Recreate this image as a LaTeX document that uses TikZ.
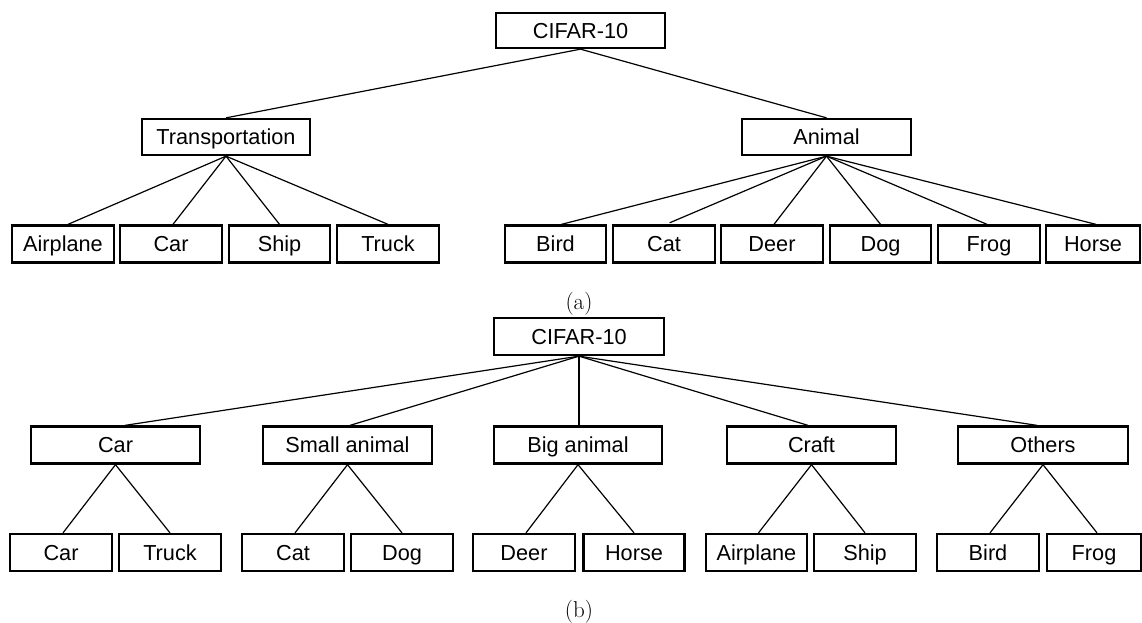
\documentclass[tikz,border=0pt]{standalone}
\usepackage{fontspec}
\newfontfamily\boxfont{Liberation Sans}
\begin{document}
\begin{tikzpicture}[x=1pt,y=-1pt,
  box/.style={draw,line width=2.3pt,inner sep=0pt,minimum height=36pt,
    text height=15.5pt,text depth=0pt,
    font=\boxfont\fontsize{21.7}{26}\selectfont},
  link/.style={line width=1.2pt},
  caption/.style={inner sep=0pt,font=\fontsize{23}{27}\selectfont}]
\useasboundingbox (0,0) rectangle (1142,622);

% ---------- (a) two-level hierarchy ----------
\node[box,minimum width=169pt,minimum height=35pt] (ra) at (580.5,30.5) {CIFAR-10};
\node[box,minimum width=168pt] (trans) at (226,137) {Transportation};
\node[box,minimum width=169pt] (animal) at (826.5,137) {Animal};

\foreach \nm/\x/\w/\t in {aairplane/63/102/Airplane, acar/171/102/Car,
    aship/279.5/101/Ship, atruck/388/102/Truck,
    abird/555.5/101/Bird, acat/664/102/Cat, adeer/772/102/Deer,
    adog/880.5/101/Dog, afrog/989/102/Frog, ahorse/1093/94/Horse}
  \node[box,minimum width=\w pt,minimum height=37pt] (\nm) at (\x,244) {\t};

\draw[link] (ra.south) -- (trans.north);
\draw[link] (ra.south) -- (animal.north);
\draw[link] (trans.south) -- ([xshift=5pt]aairplane.north);
\draw[link] (trans.south) -- ([xshift=2pt]acar.north);
\draw[link] (trans.south) -- (aship.north);
\draw[link] (trans.south) -- (atruck.north);
\draw[link] (animal.south) -- ([xshift=6pt]abird.north);
\draw[link,shorten >=4pt] (animal.south) -- ([xshift=2pt]acat.north);
\draw[link] (animal.south) -- ([xshift=2pt]adeer.north);
\draw[link] (animal.south) -- (adog.north);
\draw[link] (animal.south) -- ([xshift=-2pt]afrog.north);
\draw[link] (animal.south) -- ([xshift=3pt]ahorse.north);

\node[caption] (capa) at (579,303.5) {(a)};

% ---------- (b) three-level hierarchy ----------
\node[box,minimum width=170pt,minimum height=37pt] (rb) at (579,336.5) {CIFAR-10};

\foreach \nm/\x/\w/\t in {bcar/115.5/169/Car, bsmall/347.5/169/Small animal,
    bbig/578/168/Big animal, bcraft/811.5/169/Craft, bothers/1043/170/Others}
  \node[box,minimum width=\w pt,minimum height=37pt] (\nm) at (\x,445) {\t};

\foreach \nm/\x/\w/\t in {ccar/61/102/Car, ctruck/170/102/Truck,
    ccat/293/102/Cat, cdog/402/102/Dog,
    cdeer/524/102/Deer, chorse/634/101/Horse,
    cairplane/756.5/101/Airplane, cship/865/102/Ship,
    cbird/988/102/Bird, cfrog/1094/94/Frog}
  \node[box,minimum width=\w pt,minimum height=37pt] (\nm) at (\x,552.5) {\t};

\draw[link] (rb.south) -- ([xshift=9.5pt]bcar.north);
\draw[link] (rb.south) -- ([xshift=2.5pt]bsmall.north);
\draw[link] (rb.south) -- ([xshift=1pt]bbig.north);
\draw[link] (rb.south) -- ([xshift=-3.5pt]bcraft.north);
\draw[link] (rb.south) -- ([xshift=-6pt]bothers.north);

\draw[link] (bcar.south) -- ([xshift=2pt]ccar.north);
\draw[link] (bcar.south) -- (ctruck.north);
\draw[link] (bsmall.south) -- ([xshift=2pt]ccat.north);
\draw[link] (bsmall.south) -- (cdog.north);
\draw[link] (bbig.south) -- ([xshift=2pt]cdeer.north);
\draw[link] (bbig.south) -- (chorse.north);
\draw[link] (bcraft.south) -- ([xshift=2pt]cairplane.north);
\draw[link] (bcraft.south) -- (cship.north);
\draw[link] (bothers.south) -- ([xshift=2pt]cbird.north);
\draw[link] (bothers.south) -- ([xshift=3pt]cfrog.north);

\node[caption] (capb) at (579,611.5) {(b)};
\end{tikzpicture}
\end{document}
